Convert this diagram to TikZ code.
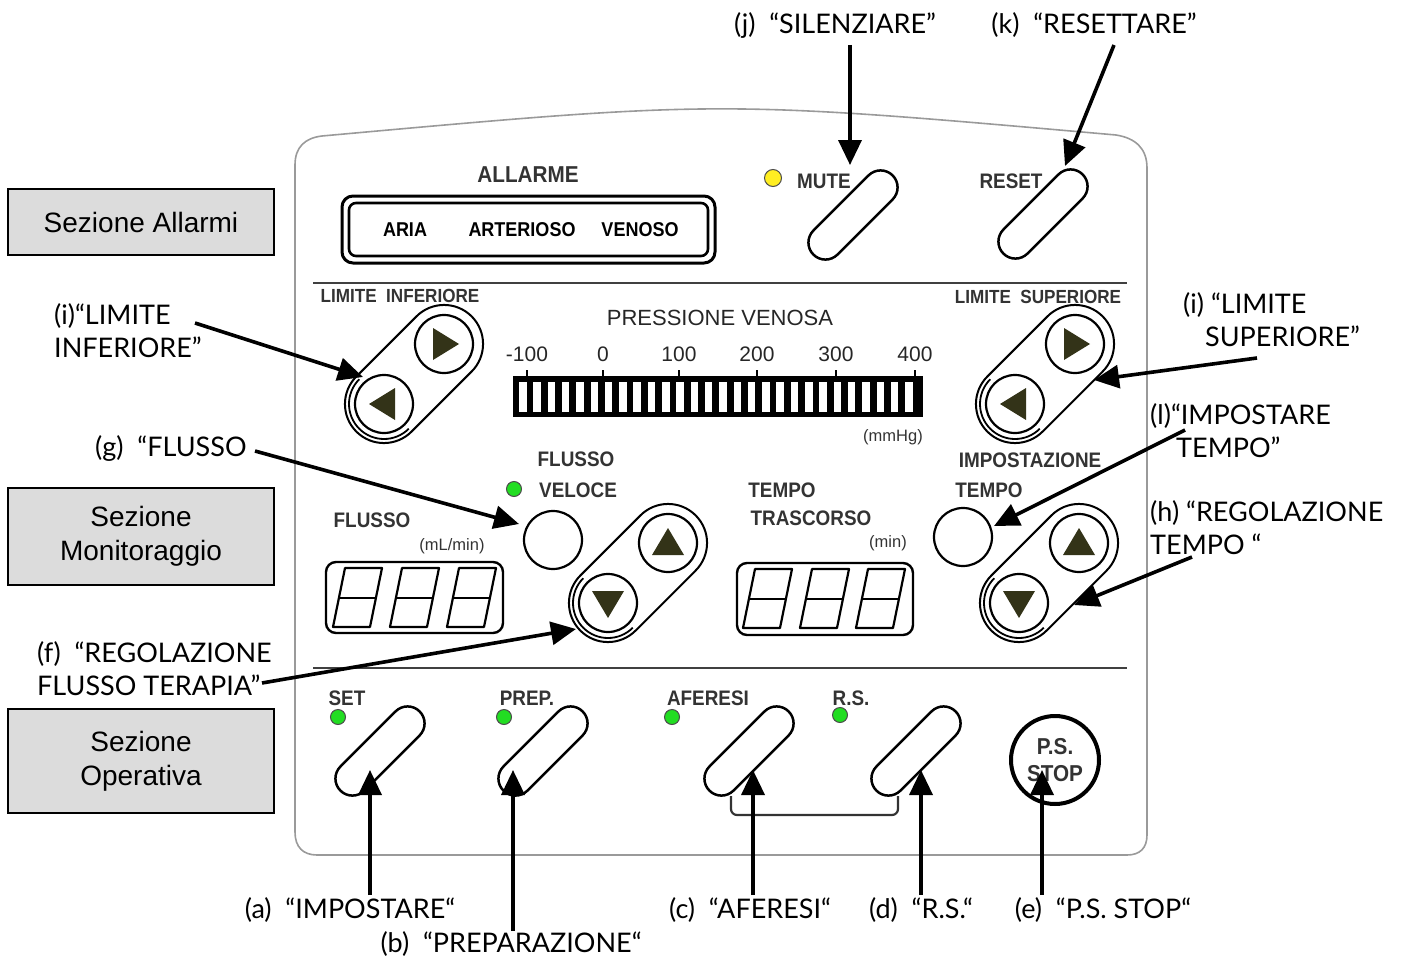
\documentclass[tikz,border=0pt]{standalone}
\usepackage{fontspec}
\setmainfont{Liberation Sans}
\newfontfamily\annot{Lato}
\newfontfamily\pnl[FakeStretch=0.9]{Liberation Sans}
\usetikzlibrary{arrows.meta}
\definecolor{pgray}{HTML}{333333}
\definecolor{secgray}{HTML}{DCDCDC}
\definecolor{trif}{HTML}{333318}
\definecolor{ledg}{HTML}{22DD22}
\definecolor{ledy}{HTML}{FFEE22}
\definecolor{edge}{HTML}{9A9A9A}
\newcommand\segdig[2]{%
  \draw[segline] (#1,#2) -- ++(37,0) -- ++(-12,59) -- ++(-37,0) -- cycle;
  \draw[segline] (#1-6,#2+30) -- ++(37,0);}
\newcommand\dctrl[4]{% name, mid x, mid y, h or v
  \node[capsule] (#1) at (#2,#3) {};
  \node[btncirc] (#1u) at (#2+30,#3-30) {};
  \node[btncirc] (#1d) at (#2-30,#3+30) {};
  \draw[line width=1.8pt] ([shift={(45:35)}]#1d.center) arc[start angle=45, end angle=225, radius=35];
  \if#4h
    \fill[trif, shift={(#1u.center)}] (-11,-16) -- (15,0) -- (-11,16) -- cycle;
    \fill[trif, shift={(#1d.center)}] (11,-16) -- (-15,0) -- (11,16) -- cycle;
  \else
    \fill[trif, shift={(#1u.center)}] (0,-15) -- (16,12) -- (-16,12) -- cycle;
    \fill[trif, shift={(#1d.center)}] (0,15) -- (16,-12) -- (-16,-12) -- cycle;
  \fi}
\begin{document}
\begin{tikzpicture}[x=1pt,y=-1pt,
  sec/.style={draw=black, line width=1.6pt, fill=secgray, minimum width=266pt, align=center, inner sep=0pt, font=\fontsize{28}{34}\selectfont},
  ann/.style={font=\annot\fontsize{27}{33}\selectfont, inner sep=0pt, align=left},
  lbl/.style={font=\pnl\bfseries\fontsize{21}{24}\selectfont, text=pgray, inner sep=0pt},
  lblr/.style={font=\fontsize{21}{24}\selectfont, text=black!85, inner sep=0pt},
  unit/.style={font=\fontsize{16.5}{20}\selectfont, text=pgray, inner sep=0pt},
  arr/.style={line width=3.6pt, -{Triangle[width=23pt,length=25pt]}},
  slotbtn/.style={draw, line width=2.5pt, rounded corners=17pt, minimum width=112pt, minimum height=34pt, rotate=45, inner sep=0pt},
  capsule/.style={draw, line width=2pt, rounded corners=39pt, minimum width=163pt, minimum height=78pt, rotate=45, inner sep=0pt},
  btncirc/.style={circle, draw, line width=2.2pt, minimum size=58pt, inner sep=0pt},
  led/.style={circle, draw=black!70, line width=1pt, minimum size=15pt, inner sep=0pt},
  segline/.style={line width=2.2pt, line join=round},
  panel/.style={draw=edge, line width=1.6pt}
]
\useasboundingbox (0,0) rectangle (1403,958);

% panel outline
\draw[panel] (295,832) -- (295,165) .. controls (295,147) and (305,138) .. (322,136)
  .. controls (720,100) .. (1116,135) .. controls (1135,138) and (1147,148) .. (1147,168)
  -- (1147,835) .. controls (1147,848) and (1140,855) .. (1127,855) -- (317,855)
  .. controls (303,855) and (295,847) .. (295,832);
\draw[line width=2pt, color=black!75] (313,283) -- (1127,283);
\draw[line width=2pt, color=black!75] (313,668) -- (1127,668);

% section boxes
\node[sec, minimum height=66pt] (sa) at (141,222) {Sezione Allarmi};
\node[sec, minimum height=97pt] (sm) at (141,536.5) {Sezione\\Monitoraggio};
\node[sec, minimum height=104pt] (so) at (141,761) {Sezione\\Operativa};

% alarm section
\node[lbl, font=\pnl\bfseries\fontsize{23}{26}\selectfont] (allarme) at (528,175) {ALLARME};
\draw[line width=3pt, rounded corners=11pt] (342,196) rectangle (715,263);
\draw[line width=2.6pt, rounded corners=7pt] (349,203) rectangle (708,256);
\node[lbl, text=black, font=\pnl\bfseries\fontsize{20}{24}\selectfont] (aria) at (405,230) {ARIA};
\node[lbl, text=black, font=\pnl\bfseries\fontsize{20}{24}\selectfont] (arter) at (522,230) {ARTERIOSO};
\node[lbl, text=black, font=\pnl\bfseries\fontsize{20}{24}\selectfont] (venoso) at (640,230) {VENOSO};
\node[led, fill=ledy, minimum size=17pt] (ledmute) at (773,178) {};
\node[lbl] (mute) at (824,181) {MUTE};
\node[slotbtn] (bmute) at (853,215) {};
\node[lbl] (reset) at (1011,181) {RESET};
\node[slotbtn] (breset) at (1043,214) {};

% pressure section
\node[lbl, font=\pnl\bfseries\fontsize{19}{22}\selectfont] (liminf) at (400,296) {LIMITE\ \ INFERIORE};
\node[lbl, font=\pnl\bfseries\fontsize{19}{22}\selectfont] (limsup) at (1038,297) {LIMITE\ \ SUPERIORE};
\node[lblr, font=\fontsize{22}{26}\selectfont] (pv) at (720,318) {PRESSIONE VENOSA};
\foreach \x/\t in {527/-100,603/0,679/100,757/200,836/300,915/400}{
  \node[lblr] at (\x,354) {\t};
  \draw[line width=1.3pt] (\x,370) -- (\x,376);
}
\fill[black] (513,376) rectangle (923,417);
\foreach \i in {0,...,27}{
  \draw[fill=white, line width=1pt] (518.5+\i*14.3,381) rectangle ++(8.5,31);
}
\node[unit] (mmhg) at (893,437) {(mmHg)};
\dctrl{cinf}{414}{374}{h}
\dctrl{csup}{1045}{374}{h}

% flow / time section
\node[led, fill=ledg] (ledfv) at (514,489) {};
\node[lbl] (fv1) at (576,459) {FLUSSO};
\node[lbl] (fv2) at (578,490) {VELOCE};
\node[lbl] (flusso) at (372,520) {FLUSSO};
\node[unit] (mlmin) at (452,546) {(mL/min)};
\node[btncirc] (bfv) at (553,540) {};
\draw[line width=2.4pt, rounded corners=10pt] (326,562) rectangle (503,633);
\segdig{345}{568}\segdig{402}{568}\segdig{459}{568}
\dctrl{cfl}{638}{573}{v}

\node[lbl] (tempo1) at (782,490) {TEMPO};
\node[lbl] (tempo2) at (811,518) {TRASCORSO};
\node[unit] (minu) at (888,543) {(min)};
\draw[line width=2.4pt, rounded corners=10pt] (737,563) rectangle (913,635);
\segdig{755}{569}\segdig{812}{569}\segdig{868}{569}
\node[lbl] (imp1) at (1030,460) {IMPOSTAZIONE};
\node[lbl] (imp2) at (989,490) {TEMPO};
\node[btncirc] (bimp) at (963,537) {};
\dctrl{ctm}{1049}{573}{v}

% operative section
\node[lbl] (set) at (347,698) {SET};
\node[led, fill=ledg] (ledset) at (338,717) {};
\node[slotbtn] (bset) at (380,751) {};
\node[lbl] (prep) at (527,698) {PREP.};
\node[led, fill=ledg] (ledprep) at (504,717) {};
\node[slotbtn] (bprep) at (543,751) {};
\node[lbl] (afer) at (708,698) {AFERESI};
\node[led, fill=ledg] (ledafer) at (672,717) {};
\node[slotbtn] (bafer) at (749,751) {};
\node[lbl] (rs) at (851,698) {R.S.};
\node[led, fill=ledg] (ledrs) at (840,715) {};
\node[slotbtn] (brs) at (916,751) {};
\draw[line width=2.2pt, color=pgray, rounded corners=6pt] (731,796) -- (731,815) -- (898,815) -- (898,796);
\node[circle, draw, line width=4pt, minimum size=88pt, inner sep=0pt, align=center, text=pgray,
  font=\pnl\bfseries\fontsize{23}{27}\selectfont] (bps) at (1055,760) {P.S.\\STOP};

% annotations
\node[ann, anchor=center] (tj) at (835,25) {(j)\ \ “SILENZIARE”};
\node[ann, anchor=center] (tk) at (1094,25) {(k)\ \ “RESETTARE”};
\node[ann, anchor=west] (tiL) at (54,331) {(i)“LIMITE\\INFERIORE”};
\node[ann, anchor=west] (tiR) at (1183,320) {(i)\ “LIMITE\\\hspace*{22pt}SUPERIORE”};
\node[ann, anchor=west] (tl) at (1150,431) {(l)“IMPOSTARE\\\hspace*{26pt}TEMPO”};
\node[ann, anchor=west] (th) at (1150,528) {(h)\ “REGOLAZIONE\\TEMPO “};
\node[ann, anchor=west] (tg) at (95,448) {(g)\ \ “FLUSSO};
\node[ann, anchor=west] (tf) at (37,669) {(f)\ \ “REGOLAZIONE\\FLUSSO TERAPIA”};
\node[ann, anchor=center] (ta) at (350,910) {(a)\ \ “IMPOSTARE“};
\node[ann, anchor=center] (tb) at (511,944) {(b)\ \ “PREPARAZIONE“};
\node[ann, anchor=center] (tc) at (750,910) {(c)\ \ “AFERESI“};
\node[ann, anchor=center] (td) at (921,910) {(d)\ \ “R.S.“};
\node[ann, anchor=center] (te) at (1103,910) {(e)\ \ “P.S. STOP“};

% arrow end points
\coordinate (jS) at (850,45);   \coordinate (jT) at (850,165);
\coordinate (kS) at (1114,45);  \coordinate (kT) at (1065,166);
\coordinate (iLS) at (195,323); \coordinate (iLT) at (363,377);
\coordinate (iRS) at (1257,358);\coordinate (iRT) at (1094,380);
\coordinate (gS) at (255,451);  \coordinate (gT) at (519,524);
\coordinate (fS) at (262,683);  \coordinate (fT) at (576,629);
\coordinate (lS) at (1185,430); \coordinate (lT) at (994,526);
\coordinate (hS) at (1192,557); \coordinate (hT) at (1074,605);
\coordinate (aS) at (370,895);  \coordinate (aT) at (370,770);
\coordinate (bS) at (513,931);  \coordinate (bT) at (513,770);
\coordinate (cS) at (753,895);  \coordinate (cT) at (753,770);
\coordinate (dS) at (921,895);  \coordinate (dT) at (921,770);
\coordinate (eS) at (1042,895); \coordinate (eT) at (1042,770);
\foreach \p in {j,k,iL,iR,g,f,l,h,a,b,c,d,e}{
  \draw[arr] (\p S) -- (\p T);
}
\end{tikzpicture}
\end{document}
